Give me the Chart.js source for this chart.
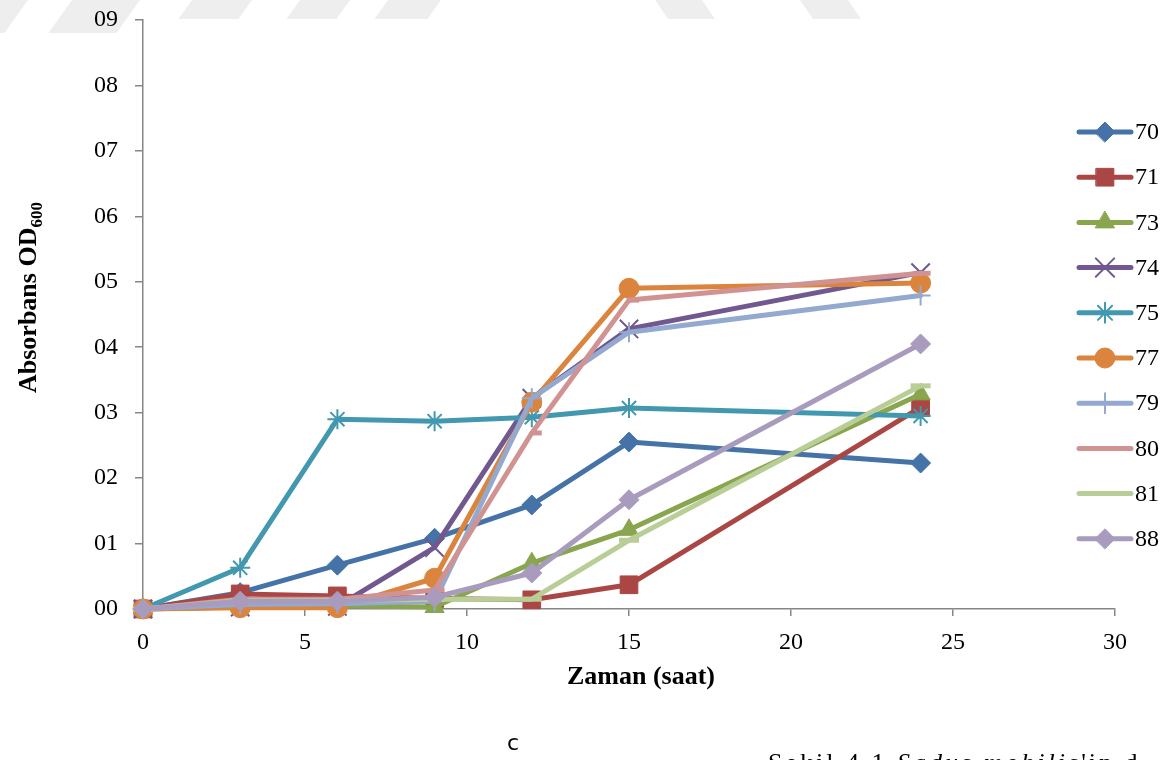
<!DOCTYPE html>
<html>
<head>
<meta charset="utf-8">
<script src="https://cdn.jsdelivr.net/npm/chart.js@4/dist/chart.umd.min.js"></script>
<style>
  html, body { margin: 0; padding: 0; background: #ffffff; }
  #wrap { position: relative; width: 1166px; height: 760px; overflow: hidden; }
  canvas { display: block; }
</style>
</head>
<body>
<div id="wrap"><canvas id="c" width="1166" height="760"></canvas></div>
<script>
// Sampling times (saat)
const times = [0, 3, 6, 9, 12, 15, 24];

// Absorbance (OD600) per strain
const s70 = [0, 0.025, 0.067, 0.108, 0.159, 0.255, 0.223];
const s71 = [0, 0.023, 0.020, 0.016, 0.014, 0.037, 0.308];
const s73 = [0, 0.005, 0.005, 0.003, 0.070, 0.121, 0.328];
const s74 = [0, 0.003, 0.004, 0.094, 0.322, 0.428, 0.514];
const s75 = [0, 0.063, 0.290, 0.287, 0.293, 0.307, 0.295];
const s77 = [0, 0.002, 0.002, 0.047, 0.316, 0.490, 0.498];
const s79 = [0, 0.007, 0.008, 0.012, 0.322, 0.423, 0.479];
const s80 = [0, 0.015, 0.015, 0.029, 0.269, 0.472, 0.513];
const s81 = [0, 0.013, 0.013, 0.015, 0.015, 0.105, 0.341];
const s88 = [0, 0.012, 0.012, 0.018, 0.055, 0.167, 0.405];

const seriesNames = ['70', '71', '73', '74', '75', '77', '79', '80', '81', '88'];
const seriesValues = [s70, s71, s73, s74, s75, s77, s79, s80, s81, s88];
const seriesColors = ['#4572A7', '#AA4643', '#89A54E', '#71588F', '#4198AF',
                      '#DB843D', '#93A9CF', '#D19392', '#B9CD96', '#A99BBD'];

// y tick labels 00 … 09
const yTickLabels = ['00', '01', '02', '03', '04', '05', '06', '07', '08', '09'];
const xTicks = [0, 5, 10, 15, 20, 25, 30];

const markerStyles = [
  { pointStyle: 'rectRot',  radius: 10,   borderWidth: 1 },
  { pointStyle: 'rect',     radius: 12.5, borderWidth: 1 },
  { pointStyle: 'triangle', radius: 11,   borderWidth: 1 },
  { pointStyle: 'crossRot', radius: 13,   borderWidth: 2 },
  { pointStyle: 'star',     radius: 10,   borderWidth: 2 },
  { pointStyle: 'circle',   radius: 10,   borderWidth: 1 },
  { pointStyle: 'cross',    radius: 10,   borderWidth: 2 },
  { pointStyle: 'dash',     radius: 10,   borderWidth: 5 },
  { pointStyle: 'line',     radius: 10,   borderWidth: 5 },
  { pointStyle: 'rectRot',  radius: 10,   borderWidth: 1 }
];

const SERIF = "'Liberation Serif', 'Times New Roman', serif";
const AXIS_GRAY = '#868686';

const datasets = seriesNames.map((name, i) => ({
  label: name,
  data: times.map((t, k) => ({ x: t, y: seriesValues[i][k] })),
  borderColor: seriesColors[i],
  backgroundColor: seriesColors[i],
  borderWidth: 5,
  borderJoinStyle: 'round',
  borderCapStyle: 'round',
  tension: 0,
  pointStyle: markerStyles[i].pointStyle,
  pointRadius: markerStyles[i].radius,
  pointHoverRadius: markerStyles[i].radius,
  pointBorderWidth: markerStyles[i].borderWidth,
  pointBackgroundColor: seriesColors[i],
  pointBorderColor: seriesColors[i],
  clip: false,
  // later series are painted on top of earlier ones
  order: seriesNames.length - i
}));

// faint page watermark band along the top edge
const watermark = {
  id: 'watermark',
  beforeDraw(chart) {
    const ctx = chart.ctx;
    ctx.save();
    ctx.beginPath();
    ctx.rect(0, 0, 1166, 19);
    ctx.rect(0, 0, 135, 33);
    ctx.clip();
    ctx.fillStyle = '#EEEEEE';
    const slashes = [[-10, 28], [72, 140], [192, 252], [300, 350], [388, 441]];
    slashes.forEach(([a, b]) => {
      ctx.beginPath();
      ctx.moveTo(a, 0); ctx.lineTo(b, 0);
      ctx.lineTo(b - 25, 35); ctx.lineTo(a - 25, 35);
      ctx.closePath(); ctx.fill();
    });
    const backs = [[655, 702], [800, 848]];
    backs.forEach(([a, b]) => {
      ctx.beginPath();
      ctx.moveTo(a, 0); ctx.lineTo(b, 0);
      ctx.lineTo(b + 24, 35); ctx.lineTo(a + 24, 35);
      ctx.closePath(); ctx.fill();
    });
    ctx.restore();
  }
};

// axis titles, legend and page text
const decorations = {
  id: 'decorations',
  afterDraw(chart) {
    const ctx = chart.ctx;
    ctx.save();
    ctx.fillStyle = '#000000';

    // y axis title with subscript
    ctx.save();
    ctx.translate(36, 393);
    ctx.rotate(-Math.PI / 2);
    ctx.textAlign = 'left';
    ctx.textBaseline = 'alphabetic';
    ctx.font = 'bold 26px ' + SERIF;
    const main = 'Absorbans OD';
    ctx.fillText(main, 0, 0);
    const w = ctx.measureText(main).width;
    ctx.font = 'bold 17px ' + SERIF;
    ctx.fillText('600', w, 6);
    ctx.restore();

    // x axis title
    ctx.font = 'bold 26px ' + SERIF;
    ctx.textAlign = 'center';
    ctx.textBaseline = 'alphabetic';
    ctx.fillText('Zaman (saat)', 641, 684);

    // legend
    chart.data.datasets.forEach((ds, i) => {
      const y = 132 + i * 45.2;
      ctx.save();
      ctx.strokeStyle = ds.borderColor;
      ctx.lineWidth = 5;
      ctx.lineCap = 'round';
      ctx.beginPath();
      ctx.moveTo(1079, y);
      ctx.lineTo(1131, y);
      ctx.stroke();
      ctx.fillStyle = ds.pointBackgroundColor;
      ctx.strokeStyle = ds.pointBorderColor;
      ctx.lineWidth = ds.pointBorderWidth;
      Chart.helpers.drawPoint(ctx, {
        pointStyle: ds.pointStyle,
        rotation: 0,
        radius: ds.pointRadius,
        borderWidth: ds.pointBorderWidth
      }, 1105, y);
      ctx.restore();
      ctx.fillStyle = '#000000';
      ctx.font = '24px ' + SERIF;
      ctx.textAlign = 'left';
      ctx.textBaseline = 'middle';
      ctx.fillText(ds.label, 1135, y + 1);
    });

    // panel letter
    ctx.font = "22px 'DejaVu Sans', sans-serif";
    ctx.textAlign = 'left';
    ctx.textBaseline = 'alphabetic';
    ctx.fillText('c', 507, 750);

    // caption line below the chart
    ctx.letterSpacing = '3px';
    ctx.font = '26px ' + SERIF;
    let cx = 768;
    const part1 = 'Şekil 4.1 ';
    ctx.fillText(part1, cx, 771);
    cx += ctx.measureText(part1).width;
    ctx.font = 'italic 26px ' + SERIF;
    const part2 = 'Sadus mobilis';
    ctx.fillText(part2, cx, 771);
    cx += ctx.measureText(part2).width;
    ctx.font = '26px ' + SERIF;
    ctx.fillText("'in d", cx, 771);

    ctx.restore();
  }
};

new Chart(document.getElementById('c'), {
  type: 'line',
  data: { datasets },
  options: {
    responsive: false,
    devicePixelRatio: 1,
    animation: false,
    events: [],
    layout: { padding: { left: 0, right: 51, top: 20, bottom: 0 } },
    plugins: {
      legend: { display: false },
      tooltip: { enabled: false },
      title: { display: false }
    },
    scales: {
      x: {
        type: 'linear',
        min: 0,
        max: 30,
        afterFit(scale) {
          scale.height = 151;
          scale.paddingLeft = 0;
          scale.paddingRight = 0;
        },
        afterBuildTicks(scale) { scale.ticks = xTicks.map(v => ({ value: v })); },
        ticks: {
          font: { family: SERIF, size: 24 },
          color: '#000000',
          padding: 12,
          maxRotation: 0,
          callback: (v) => String(v)
        },
        grid: {
          drawOnChartArea: false,
          drawTicks: true,
          tickLength: 7,
          color: AXIS_GRAY,
          lineWidth: 1.5
        },
        border: { display: true, color: AXIS_GRAY, width: 1.5 }
      },
      y: {
        type: 'linear',
        min: 0,
        max: 0.9,
        afterFit(scale) {
          scale.width = 143;
          scale.paddingTop = 0;
          scale.paddingBottom = 0;
        },
        afterBuildTicks(scale) {
          scale.ticks = yTickLabels.map((_, i) => ({ value: i / 10 }));
        },
        ticks: {
          font: { family: SERIF, size: 24 },
          color: '#000000',
          padding: 17,
          callback: (v, idx) => yTickLabels[idx]
        },
        grid: {
          drawOnChartArea: false,
          drawTicks: true,
          tickLength: 8,
          color: AXIS_GRAY,
          lineWidth: 1.5
        },
        border: { display: true, color: AXIS_GRAY, width: 1.5 }
      }
    }
  },
  plugins: [watermark, decorations]
});
</script>
</body>
</html>
